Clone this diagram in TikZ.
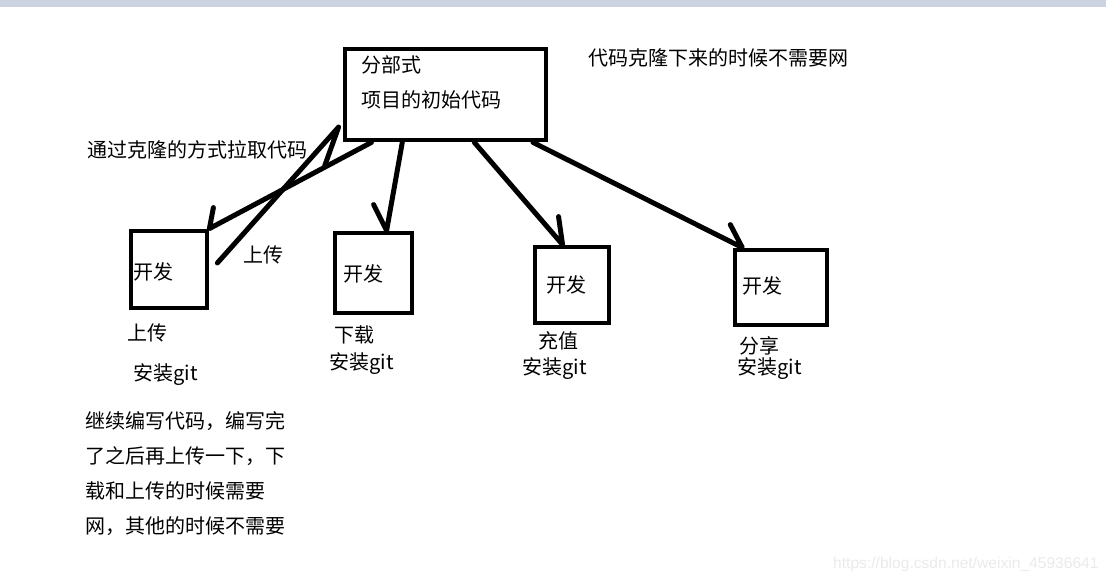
\documentclass[tikz,border=0pt]{standalone}
\usepackage{fontspec}
\setmainfont{Noto Sans CJK SC}
\newfontfamily\urlfont{Liberation Sans}
\usepackage{tikz}
\usetikzlibrary{calc}
\definecolor{topbar}{HTML}{CCD3E0}
\definecolor{wmark} {HTML}{EAEAEA}

\begin{document}
\begin{tikzpicture}[x=0.5pt,y=-0.5pt,
  box/.style={draw,line width=2.4pt,inner sep=0pt},
  lbl/.style={anchor=west,inner sep=0pt,font=\fontsize{10}{12}\selectfont},
  wire/.style={line width=2.5pt,line join=round,line cap=round}]
  \useasboundingbox (0,0) rectangle (1106,581);
  \fill[topbar] (0,0) rectangle (1106,7);
  % boxes
  \node[box,minimum width=100.5pt,minimum height=45.5pt] (src) at (445.5,94.5) {};
  \node[box,minimum width=38pt,minimum height=38.5pt] (dev1) at (169,269.5) {};
  \node[box,minimum width=38.5pt,minimum height=40pt] (dev2) at (373.5,273) {};
  \node[box,minimum width=37pt,minimum height=38pt] (dev3) at (572,285) {};
  \node[box,minimum width=46pt,minimum height=37.5pt] (dev4) at (781,287.5) {};
  \node[lbl] (srcname) at (361,65) {分部式};
  \node[lbl] (srccode) at (361,100) {项目的初始代码};
  \node[lbl] (nonet) at (588,58) {代码克隆下来的时候不需要网};
  \node[lbl] (clone) at (87,150) {通过克隆的方式拉取代码};
  \node[lbl] (push) at (243,255) {上传};
  \foreach \n/\x/\y/\job/\jx/\jy/\gx/\gy in {%
    1/133/272/上传/127/333/133/375,
    2/343/274/下载/334/335/329/364,
    3/546/285/充值/538/341/522/369,
    4/742/286/分享/739/346/737/369}{
    \node[lbl] (dev\n txt) at (\x,\y) {开发};
    \node[lbl] (job\n) at (\jx,\jy) {\job};
    \node[lbl] (git\n) at (\gx,\gy) {安装git};}
  \node[lbl,align=left,font=\fontsize{10}{17.5}\selectfont] (note) at (85,474)
    {继续编写代码，编写完\\了之后再上传一下，下\\载和上传的时候需要\\网，其他的时候不需要};
  \node[anchor=east,inner sep=0pt,text=wmark,font=\urlfont\fontsize{7.8}{9}\selectfont] (wm)
    at (1099,564) {https://blog.csdn.net/weixin\_45936641};
  % connectors
  \draw[wire] ($(src.south west)!0.14!(src.south east)$) -- (dev1.north east) -- ++(4,-21);
  \draw[wire] ($(src.south west)!0.29!(src.south east)$)
    -- ($(dev2.north west)!0.66!(dev2.north east)$) -- ++(-13,-26);
  \draw[wire] ($(src.south west)!0.64!(src.south east)$)
    -- ($(dev3.north west)!0.38!(dev3.north east)$) -- ++(-4,-28);
  \draw[wire] ($(src.south west)!0.925!(src.south east)$)
    -- ($(dev4.north west)!0.1!(dev4.north east)$) -- ++(-12,-23);
  \draw[wire] ($(dev1.north east)!0.42!(dev1.south east)+(8,0)$)
    -- ($(src.north west)!0.84!(src.south west)+(-4,0)$) -- ++(-14,39);
\end{tikzpicture}
\end{document}
